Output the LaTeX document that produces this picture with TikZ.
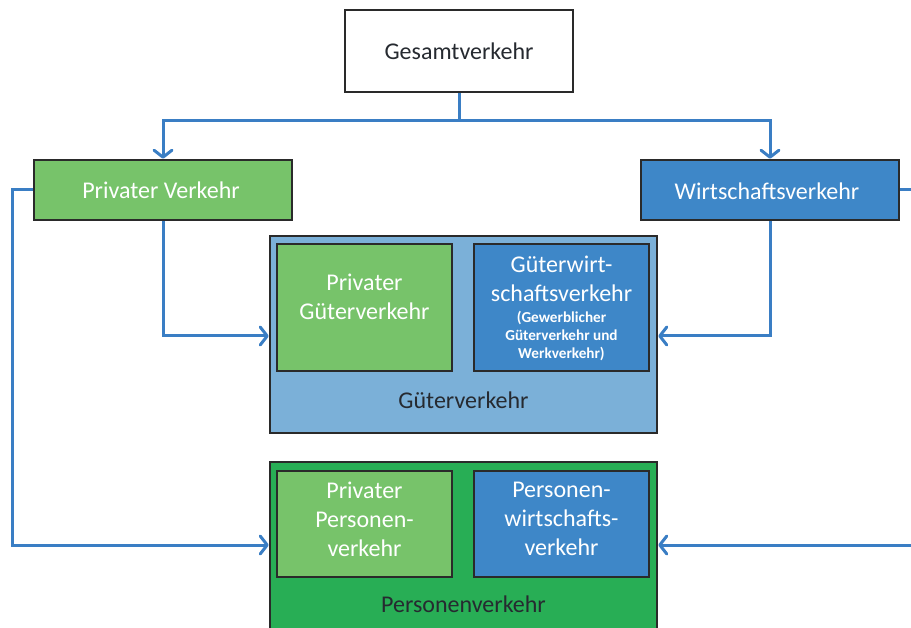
\documentclass[tikz,border=0pt]{standalone}
\usepackage{fontspec}
\setmainfont{Carlito}
\usetikzlibrary{arrows.meta}
\definecolor{lgreen}{HTML}{77C36A}
\definecolor{mblue}{HTML}{3E87C8}
\definecolor{lblue}{HTML}{7BB0D8}
\definecolor{dgreen}{HTML}{28AE55}
\definecolor{bordc}{HTML}{2A2A2A}
\definecolor{linec}{HTML}{3A7EC4}
\definecolor{darktext}{HTML}{262A30}
\begin{document}
\begin{tikzpicture}[x=1pt,y=-1pt,
  box/.style={draw=bordc,line width=2.6pt,inner sep=0pt},
  big/.style={font=\fontsize{24}{29}\selectfont,align=center,inner sep=0pt},
  small/.style={font=\fontsize{15.2}{18}\selectfont\bfseries,align=center,inner sep=0pt},
  conn/.style={draw=linec,line width=3pt,-{Straight Barb[length=7pt,width=18pt,round]}},
  plain/.style={draw=linec,line width=3pt}]
\useasboundingbox (0,0) rectangle (911,628);
\clip (0,0) rectangle (911,628);
% top
\node[box,fill=white,minimum width=228pt,minimum height=82pt] (G) at (459,51) {};
\node[big,text=darktext] (Gt) at (459,51) {Gesamtverkehr};
\node[box,fill=lgreen,minimum width=258pt,minimum height=60pt] (PV) at (163,190) {};
\node[big,text=white] (PVt) at (161,190) {Privater Verkehr};
\node[box,fill=mblue,minimum width=258pt,minimum height=60pt] (WV) at (770,190) {};
\node[big,text=white] (WVt) at (767,191) {Wirtschaftsverkehr};
% Gueterverkehr
\node[box,fill=lblue,minimum width=387pt,minimum height=197pt] (GV) at (463.5,334.5) {};
\node[box,fill=lgreen,minimum width=175pt,minimum height=127pt] (PGV) at (364.5,307.5) {};
\node[big,text=white] (PGVt) at (364.5,297) {Privater\\Güterverkehr};
\node[box,fill=mblue,minimum width=175pt,minimum height=127pt] (GWV) at (561.5,307.5) {};
\node[big,text=white] (GWVt) at (561.5,279) {Güterwirt-\\schaftsverkehr};
\node[small,text=white] (GWVs) at (561.5,336) {(Gewerblicher\\Güterverkehr und\\Werkverkehr)};
\node[big,text=darktext] (GVt) at (463.5,400) {Güterverkehr};
% Personenverkehr
\node[box,fill=dgreen,minimum width=387pt,minimum height=198pt] (PeV) at (463.5,561) {};
\node[box,fill=lgreen,minimum width=175pt,minimum height=106pt] (PPV) at (364.5,524) {};
\node[big,text=white] (PPVt) at (364.5,519) {Privater\\Personen-\\verkehr};
\node[box,fill=mblue,minimum width=175pt,minimum height=106pt] (PWV) at (561.5,524) {};
\node[big,text=white] (PWVt) at (561.5,519) {Personen-\\wirtschafts-\\verkehr};
\node[big,text=darktext] (PeVt) at (463.5,604) {Personenverkehr};
% connectors
\coordinate (j) at (459,121);
\draw[plain] (G.south) -- (j);
\draw[conn] (j) -| (PV.north);
\draw[conn] (j) -| (WV.north);
\draw[conn] (PV.south) |- ([yshift=-1.5pt]GV.west);
\draw[conn] (WV.south) |- ([yshift=-1.5pt]GV.east);
\coordinate (lc) at (12,545);
\coordinate (rc) at (925,545);
\draw[conn] (PV.west) -| (lc) -- (lc -| PeV.west);
\draw[conn] (WV.east) -| (rc) -- (rc -| PeV.east);
\end{tikzpicture}
\end{document}
